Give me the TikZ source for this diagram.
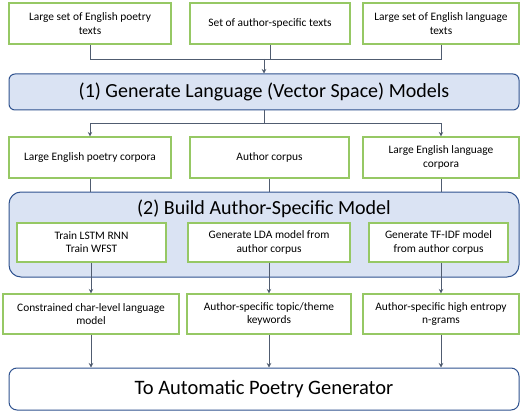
\documentclass[tikz,border=0pt]{standalone}
\usepackage{fontspec}
\setmainfont{Carlito}
\usetikzlibrary{arrows.meta}
\definecolor{gbord}{RGB}{150,200,100}
\definecolor{bfill}{RGB}{218,227,243}
\definecolor{bbord}{RGB}{47,82,143}
\definecolor{lcol}{RGB}{80,92,112}
\begin{document}
\begin{tikzpicture}[x=1pt,y=-1pt,
  gbox/.style={draw=gbord,line width=1.1pt,fill=white,align=center,font=\fontsize{11.4}{13.2}\selectfont,inner sep=1pt},
  bigbox/.style={draw=bbord,line width=1pt,rounded corners=6pt,font=\fontsize{20}{24}\selectfont},
  conn/.style={draw=lcol,line width=0.9pt},
  arr/.style={conn,-{Stealth[length=4.5pt,width=4.5pt]}}]
\useasboundingbox (0,0) rectangle (520,412);
% top row
\node[gbox,minimum width=162,minimum height=41] (t1) at (90,23.5) {Large set of English poetry\\texts};
\node[gbox,minimum width=160,minimum height=41] (t2) at (270,23.5) {Set of author-specific texts};
\node[gbox,minimum width=156,minimum height=41] (t3) at (441,23.5) {Large set of English language\\texts};
% box 1
\node[bigbox,fill=bfill,minimum width=510,minimum height=36] (b1) at (264,92) {(1) Generate Language (Vector Space) Models};
\coordinate (j1) at (264,59);
\draw[conn] (t1.south) |- (j1);
\draw[conn] (t3.south) |- (j1);
\draw[conn] (t2.south) -- (t2.south |- j1);
\draw[arr] (j1) -- (b1.north);
% row 2
\node[gbox,minimum width=162,minimum height=41] (r1) at (90,157.5) {Large English poetry corpora};
\node[gbox,minimum width=159,minimum height=41] (r2) at (269.5,157.5) {Author corpus};
\node[gbox,minimum width=156,minimum height=41] (r3) at (441,157.5) {Large English language\\corpora};
\coordinate (j2) at (264,123);
\draw[conn] (b1.south) -- (j2);
\draw[arr] (j2) -| (r1.north);
\draw[arr] (j2) -| (r3.north);
% box 2
\node[draw=bbord,line width=1pt,rounded corners=12pt,fill=bfill,minimum width=510,minimum height=85] (b2) at (264,234.5) {};
\node[font=\fontsize{20}{24}\selectfont,inner sep=0pt] (b2t) at (264,209) {(2) Build Author-Specific Model};
\draw[conn] (r1.south) -- (r1.south |- b2.north);
\draw[conn] (r2.south) -- (r2.south |- b2.north);
\draw[conn] (r3.south) -- (r3.south |- b2.north);
\node[gbox,minimum width=149,minimum height=39] (i1) at (91.5,242.5) {Train LSTM RNN\\Train WFST};
\node[gbox,minimum width=162,minimum height=39] (i2) at (269,242.5) {Generate LDA model from\\author corpus};
\node[gbox,minimum width=139,minimum height=39] (i3) at (438.5,242.5) {Generate TF-IDF model\\from author corpus};
% row 3
\node[gbox,minimum width=176,minimum height=40] (o1) at (91,314) {Constrained char-level language\\model};
\node[gbox,minimum width=164,minimum height=40] (o2) at (269,314) {Author-specific topic/theme\\keywords};
\node[gbox,minimum width=156,minimum height=40] (o3) at (441,314) {Author-specific high entropy\\n-grams};
\draw[arr] (o1.north |- i1.south) -- (o1.north);
\draw[arr] (o2.north |- i2.south) -- (o2.north);
\draw[arr] (o3.north |- i3.south) -- (o3.north);
% final
\node[bigbox,rounded corners=8pt,fill=white,minimum width=510,minimum height=42,font=\fontsize{20.5}{24}\selectfont] (fin) at (264,389) {To Automatic Poetry Generator};
\draw[arr] (o1.south) -- (o1.south |- fin.north);
\draw[arr] (o2.south) -- (o2.south |- fin.north);
\draw[arr] (o3.south) -- (o3.south |- fin.north);
\end{tikzpicture}
\end{document}
